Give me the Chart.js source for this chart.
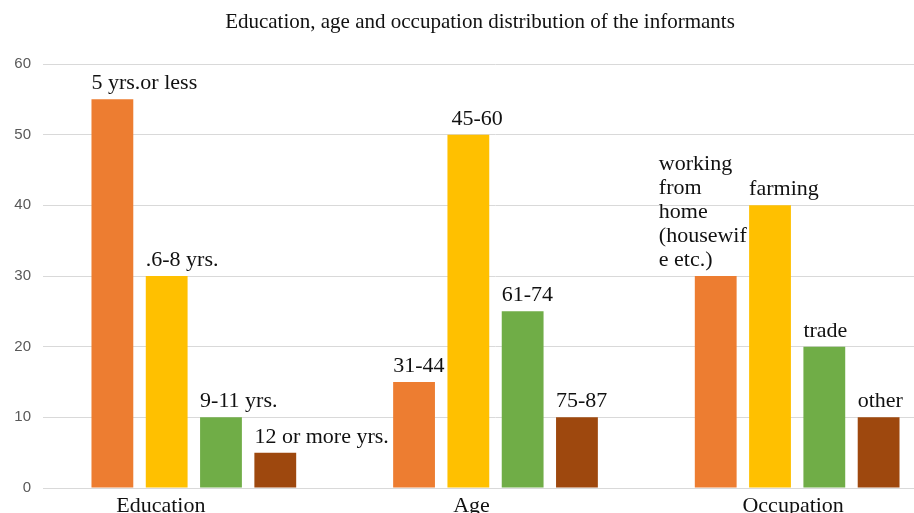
<!DOCTYPE html>
<html>
<head>
<meta charset="utf-8"/>
<style>
  html,body{margin:0;padding:0;background:#fff;overflow:hidden;}
  #wrap{position:relative;width:960px;height:513px;}
</style>
</head>
<body>
<div id="wrap"><canvas id="c"></canvas></div>
<script src="https://cdn.jsdelivr.net/npm/chart.js@4.4.0/dist/chart.umd.min.js"></script>
<script>
const TITLE = "Education, age and occupation distribution of the informants";
const groups = ["Education", "Age", "Occupation"];
const bar1 = [55, 15, 30];
const bar2 = [30, 50, 40];
const bar3 = [10, 25, 20];
const bar4 = [5, 10, 10];
const labels1 = ["5 yrs.or less", "31-44", ["working", "from", "home", "(housewif", "e etc.)"]];
const labels2 = [".6-8 yrs.", "45-60", "farming"];
const labels3 = ["9-11 yrs.", "61-74", "trade"];
const labels4 = ["12 or more yrs.", "75-87", "other"];
const yTicks = [0, 10, 20, 30, 40, 50, 60];

const COLORS = ["#ED7D31", "#FFC000", "#70AD47", "#9E480E"];
const SERIF = "'Liberation Serif', 'Times New Roman', serif";

// hand-placed label nudges seen in the original (dataset -> index -> dx)
const labelNudge = { 0: { 2: -36 }, 1: { 1: 4 } };
// category labels are also off-centre in the original
const catNudge = [-33, -24, -4];

const barLabels = {
  id: "barLabels",
  afterDatasetsDraw(chart) {
    const ctx = chart.ctx;
    ctx.save();
    ctx.font = "22px " + SERIF;
    ctx.fillStyle = "#111";
    ctx.textAlign = "left";
    ctx.textBaseline = "alphabetic";
    chart.data.datasets.forEach((ds, di) => {
      chart.getDatasetMeta(di).data.forEach((bar, i) => {
        const txt = ds.barText[i];
        const lines = Array.isArray(txt) ? txt : [txt];
        const dx = (labelNudge[di] && labelNudge[di][i]) || 0;
        const x = bar.x - bar.width / 2 + dx;
        const base = bar.y - 10;
        lines.forEach((ln, k) => {
          ctx.fillText(ln, x, base - (lines.length - 1 - k) * 24);
        });
      });
    });
    // category names under the axis
    const xs = chart.scales.x;
    ctx.textAlign = "center";
    ctx.textBaseline = "top";
    chart.data.labels.forEach((lab, i) => {
      ctx.fillText(lab, xs.getPixelForTick(i) + catNudge[i], xs.top + 7);
    });
    ctx.restore();
  }
};

const drawTitle = {
  id: "drawTitle",
  afterDraw(chart) {
    const ctx = chart.ctx;
    ctx.save();
    ctx.font = "21px " + SERIF;
    ctx.fillStyle = "#111";
    ctx.textAlign = "center";
    ctx.textBaseline = "middle";
    ctx.fillText(TITLE, chart.width / 2, 22);
    ctx.restore();
  }
};

const series = [bar1, bar2, bar3, bar4];
const texts = [labels1, labels2, labels3, labels4];

new Chart(document.getElementById("c"), {
  type: "bar",
  data: {
    labels: groups,
    datasets: series.map((d, i) => ({
      data: d,
      barText: texts[i],
      backgroundColor: COLORS[i],
      borderWidth: 0,
      categoryPercentage: 0.72,
      barPercentage: 0.77
    }))
  },
  options: {
    responsive: true,
    maintainAspectRatio: false,
    animation: false,
    layout: { padding: { top: 64, right: 12, left: 0, bottom: 0 } },
    plugins: { legend: { display: false }, tooltip: { enabled: false }, title: { display: false } },
    scales: {
      x: {
        grid: { display: false, drawTicks: false },
        border: { color: "#d9d9d9" },
        ticks: { display: false },
        afterFit(s) { s.height = 25; }
      },
      y: {
        min: 0, max: 60,
        afterBuildTicks(s) { s.ticks = yTicks.map(v => ({ value: v })); },
        grid: { color: "#d9d9d9", drawTicks: false },
        border: { display: false },
        ticks: { color: "#595959", font: { family: "'Liberation Sans', Arial, sans-serif", size: 15 }, padding: 12 },
        afterFit(s) { s.width = 43; }
      }
    }
  },
  plugins: [barLabels, drawTitle]
});
</script>
</body>
</html>
